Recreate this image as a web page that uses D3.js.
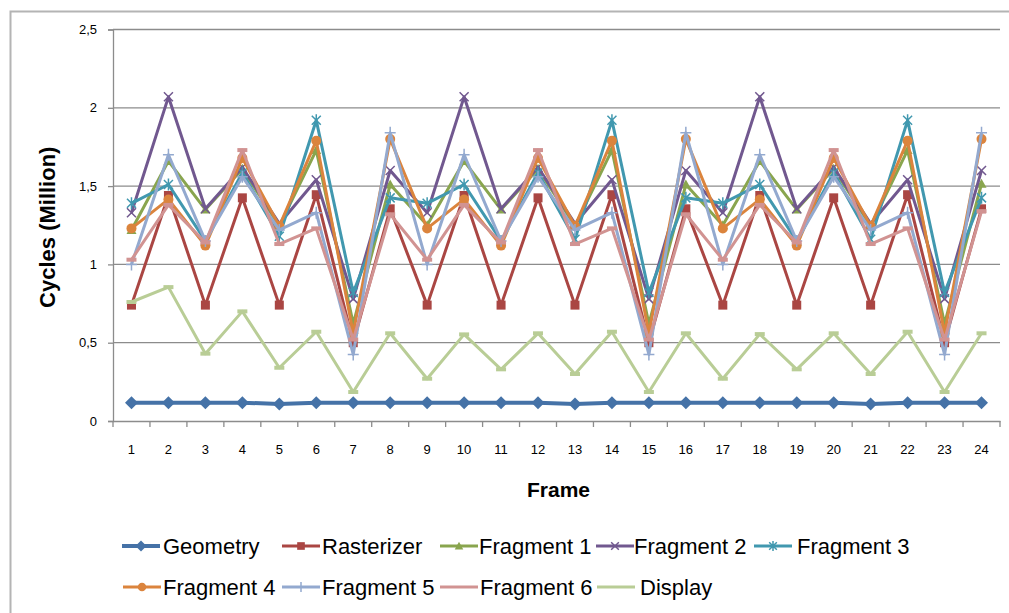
<!DOCTYPE html>
<html>
<head>
<meta charset="utf-8">
<script src="https://cdn.jsdelivr.net/npm/d3@7"></script>
<style>
  html, body { margin: 0; padding: 0; background: #fff; }
  svg { display: block; }
  text { font-family: "Liberation Sans", Arial, sans-serif; }
</style>
</head>
<body>
<svg id="chart" width="1009" height="613"></svg>
<script>
// ---------- data ----------
const frames = ["1","2","3","4","5","6","7","8","9","10","11","12","13","14","15","16","17","18","19","20","21","22","23","24"];
const yTicks = [0, 0.5, 1, 1.5, 2, 2.5];
const seriesNames = ["Geometry","Rasterizer","Fragment 1","Fragment 2","Fragment 3","Fragment 4","Fragment 5","Fragment 6","Display"];

const geometry   = [0.117,0.117,0.117,0.117,0.108,0.117,0.117,0.117, 0.117,0.117,0.117,0.117,0.108,0.117,0.117,0.117, 0.117,0.117,0.117,0.117,0.108,0.117,0.117,0.117];
const rasterizer = [0.74,1.44,0.74,1.425,0.74,1.445,0.50,1.355, 0.74,1.44,0.74,1.425,0.74,1.445,0.50,1.355, 0.74,1.44,0.74,1.425,0.74,1.445,0.50,1.355];
const fragment1  = [1.22,1.66,1.35,1.61,1.245,1.73,0.62,1.51, 1.25,1.66,1.35,1.61,1.245,1.73,0.62,1.51, 1.25,1.66,1.35,1.61,1.245,1.73,0.62,1.515];
const fragment2  = [1.33,2.07,1.355,1.62,1.26,1.54,0.78,1.60, 1.33,2.07,1.355,1.62,1.26,1.54,0.78,1.60, 1.33,2.07,1.355,1.62,1.26,1.54,0.78,1.60];
const fragment3  = [1.39,1.51,1.15,1.585,1.18,1.92,0.82,1.425, 1.39,1.51,1.15,1.585,1.16,1.92,0.82,1.425, 1.39,1.51,1.15,1.585,1.16,1.92,0.82,1.425];
const fragment4  = [1.23,1.415,1.12,1.68,1.245,1.79,0.56,1.80, 1.23,1.415,1.12,1.68,1.245,1.79,0.56,1.80, 1.23,1.415,1.12,1.68,1.245,1.79,0.56,1.80];
const fragment5  = [1.00,1.70,1.15,1.56,1.22,1.33,0.425,1.84, 1.00,1.70,1.15,1.56,1.22,1.33,0.425,1.84, 1.00,1.70,1.15,1.56,1.22,1.33,0.425,1.84];
const fragment6  = [1.03,1.38,1.14,1.73,1.13,1.23,0.52,1.32, 1.03,1.38,1.14,1.73,1.13,1.23,0.52,1.32, 1.03,1.38,1.14,1.73,1.13,1.23,0.52,1.34];
const display    = [0.76,0.855,0.43,0.70,0.34,0.57,0.185,0.56, 0.27,0.553,0.33,0.56,0.30,0.57,0.185,0.56, 0.27,0.555,0.33,0.56,0.30,0.57,0.185,0.56];

// ---------- styling ----------
const seriesValues = [geometry, rasterizer, fragment1, fragment2, fragment3, fragment4, fragment5, fragment6, display];
const colors  = ["#4572A7","#AA4643","#89A54E","#71588F","#4198AF","#DB843D","#93A9CF","#D19392","#B9CD96"];
const markers = ["diamond","square","triangle","x","star","circle","plus","dash","dash"];
const widths  = [4, 3, 3, 3, 3, 3, 3, 3, 3];

const svg = d3.select("#chart");
const plot = { left: 113, right: 1000, top: 29.5, bottom: 421 };

// outer border
svg.append("rect").attr("x", 10.5).attr("y", 11.5).attr("width", 1200).attr("height", 800)
  .attr("fill", "#fff").attr("stroke", "#b4b4b4").attr("stroke-width", 2);

const x = d3.scaleBand().domain(frames).range([plot.left, plot.right]).padding(0);
const y = d3.scaleLinear().domain([0, 2.5]).range([plot.bottom, plot.top]);
const cx = f => x(f) + x.bandwidth() / 2;

// gridlines
svg.append("g").selectAll("line").data(yTicks.filter(d => d > 0)).join("line")
  .attr("x1", plot.left).attr("x2", plot.right)
  .attr("y1", d => y(d)).attr("y2", d => y(d))
  .attr("stroke", "#8c8c8c").attr("stroke-width", 1.3);

// y axis
const yAxis = svg.append("g").attr("transform", `translate(${plot.left},0)`)
  .call(d3.axisLeft(y).tickValues(yTicks).tickSize(5).tickPadding(11)
    .tickFormat(d => String(d).replace(".", ",")));
yAxis.select(".domain").attr("stroke", "#8c8c8c").attr("stroke-width", 1.3);
yAxis.selectAll(".tick line").attr("stroke", "#8c8c8c").attr("stroke-width", 1.3);
yAxis.selectAll("text").attr("font-size", 13).attr("fill", "#000")
  .style("font-family", "'Liberation Sans', Arial, sans-serif");

// x axis
const xAxis = svg.append("g").attr("transform", `translate(0,${plot.bottom})`)
  .call(d3.axisBottom(x).tickSize(0).tickPadding(24));
xAxis.select(".domain").attr("stroke", "#8c8c8c").attr("stroke-width", 1.3);
xAxis.selectAll("text").attr("font-size", 13).attr("fill", "#000")
  .style("font-family", "'Liberation Sans', Arial, sans-serif");
const boundaries = frames.map(f => x(f)).concat([plot.right]);
svg.append("g").selectAll("line").data(boundaries).join("line")
  .attr("x1", d => d).attr("x2", d => d)
  .attr("y1", plot.bottom).attr("y2", plot.bottom + 6)
  .attr("stroke", "#8c8c8c").attr("stroke-width", 1.3);

// axis titles
svg.append("text").attr("x", (plot.left + plot.right) / 2 + 2).attr("y", 497)
  .attr("text-anchor", "middle").attr("font-size", 21).attr("font-weight", "bold")
  .text("Frame");
svg.append("text").attr("transform", `translate(55,${(plot.top + plot.bottom) / 2 + 2}) rotate(-90)`)
  .attr("text-anchor", "middle").attr("font-size", 22).attr("font-weight", "bold")
  .text("Cycles (Million)");

// marker drawing
function drawMarker(g, type, color, s) {
  s = s || 1;
  switch (type) {
    case "diamond":
      g.append("path").attr("d", `M0,${-6.5*s}L${6.5*s},0L0,${6.5*s}L${-6.5*s},0Z`).attr("fill", color);
      break;
    case "square":
      g.append("rect").attr("x", -4.5*s).attr("y", -4.5*s).attr("width", 9*s).attr("height", 9*s).attr("fill", color);
      break;
    case "triangle":
      g.append("path").attr("d", `M0,${-5*s}L${5*s},${4*s}L${-5*s},${4*s}Z`).attr("fill", color);
      break;
    case "x":
      g.append("path").attr("d", `M${-4.5*s},${-4.5*s}L${4.5*s},${4.5*s}M${4.5*s},${-4.5*s}L${-4.5*s},${4.5*s}`)
        .attr("stroke", color).attr("stroke-width", 1.5).attr("fill", "none");
      break;
    case "star":
      g.append("path").attr("d", `M${-4.5*s},${-4.5*s}L${4.5*s},${4.5*s}M${4.5*s},${-4.5*s}L${-4.5*s},${4.5*s}M0,${-6*s}L0,${6*s}`)
        .attr("stroke", color).attr("stroke-width", 1.5).attr("fill", "none");
      break;
    case "circle":
      g.append("circle").attr("r", 5*s).attr("fill", color);
      break;
    case "plus":
      g.append("path").attr("d", `M${-5.5*s},0L${5.5*s},0M0,${-6*s}L0,${6*s}`)
        .attr("stroke", color).attr("stroke-width", 1.5).attr("fill", "none");
      break;
    case "dash":
      g.append("path").attr("d", `M${-5*s},0L${5*s},0`)
        .attr("stroke", color).attr("stroke-width", 4).attr("fill", "none");
      break;
  }
}

// series
const line = d3.line().x((d, i) => cx(frames[i])).y(d => y(d));
seriesValues.forEach((vals, si) => {
  const g = svg.append("g");
  g.append("path").datum(vals).attr("d", line)
    .attr("fill", "none").attr("stroke", colors[si]).attr("stroke-width", widths[si])
    .attr("stroke-linejoin", "round");
  vals.forEach((v, i) => {
    const mg = g.append("g").attr("transform", `translate(${cx(frames[i])},${y(v)})`);
    drawMarker(mg, markers[si], colors[si]);
  });
});

// legend
const legendPos = [
  [122, 546, 163], [282, 546, 322], [440, 546, 479], [596, 546, 634], [754, 546, 797],
  [123, 587, 163], [282, 587, 322], [440, 587, 480], [597, 587, 640]
];
seriesNames.forEach((name, si) => {
  const [lx, ly, tx] = legendPos[si];
  const g = svg.append("g");
  g.append("line").attr("x1", lx).attr("x2", lx + 38).attr("y1", ly).attr("y2", ly)
    .attr("stroke", colors[si]).attr("stroke-width", widths[si]);
  if (markers[si] !== "dash") {
    const mg = g.append("g").attr("transform", `translate(${lx + 19},${ly})`);
    drawMarker(mg, markers[si], colors[si], 0.85);
  }
  g.append("text").attr("x", tx).attr("y", ly).attr("dy", "0.35em")
    .attr("font-size", 22).attr("fill", "#000").text(name);
});
</script>
</body>
</html>
